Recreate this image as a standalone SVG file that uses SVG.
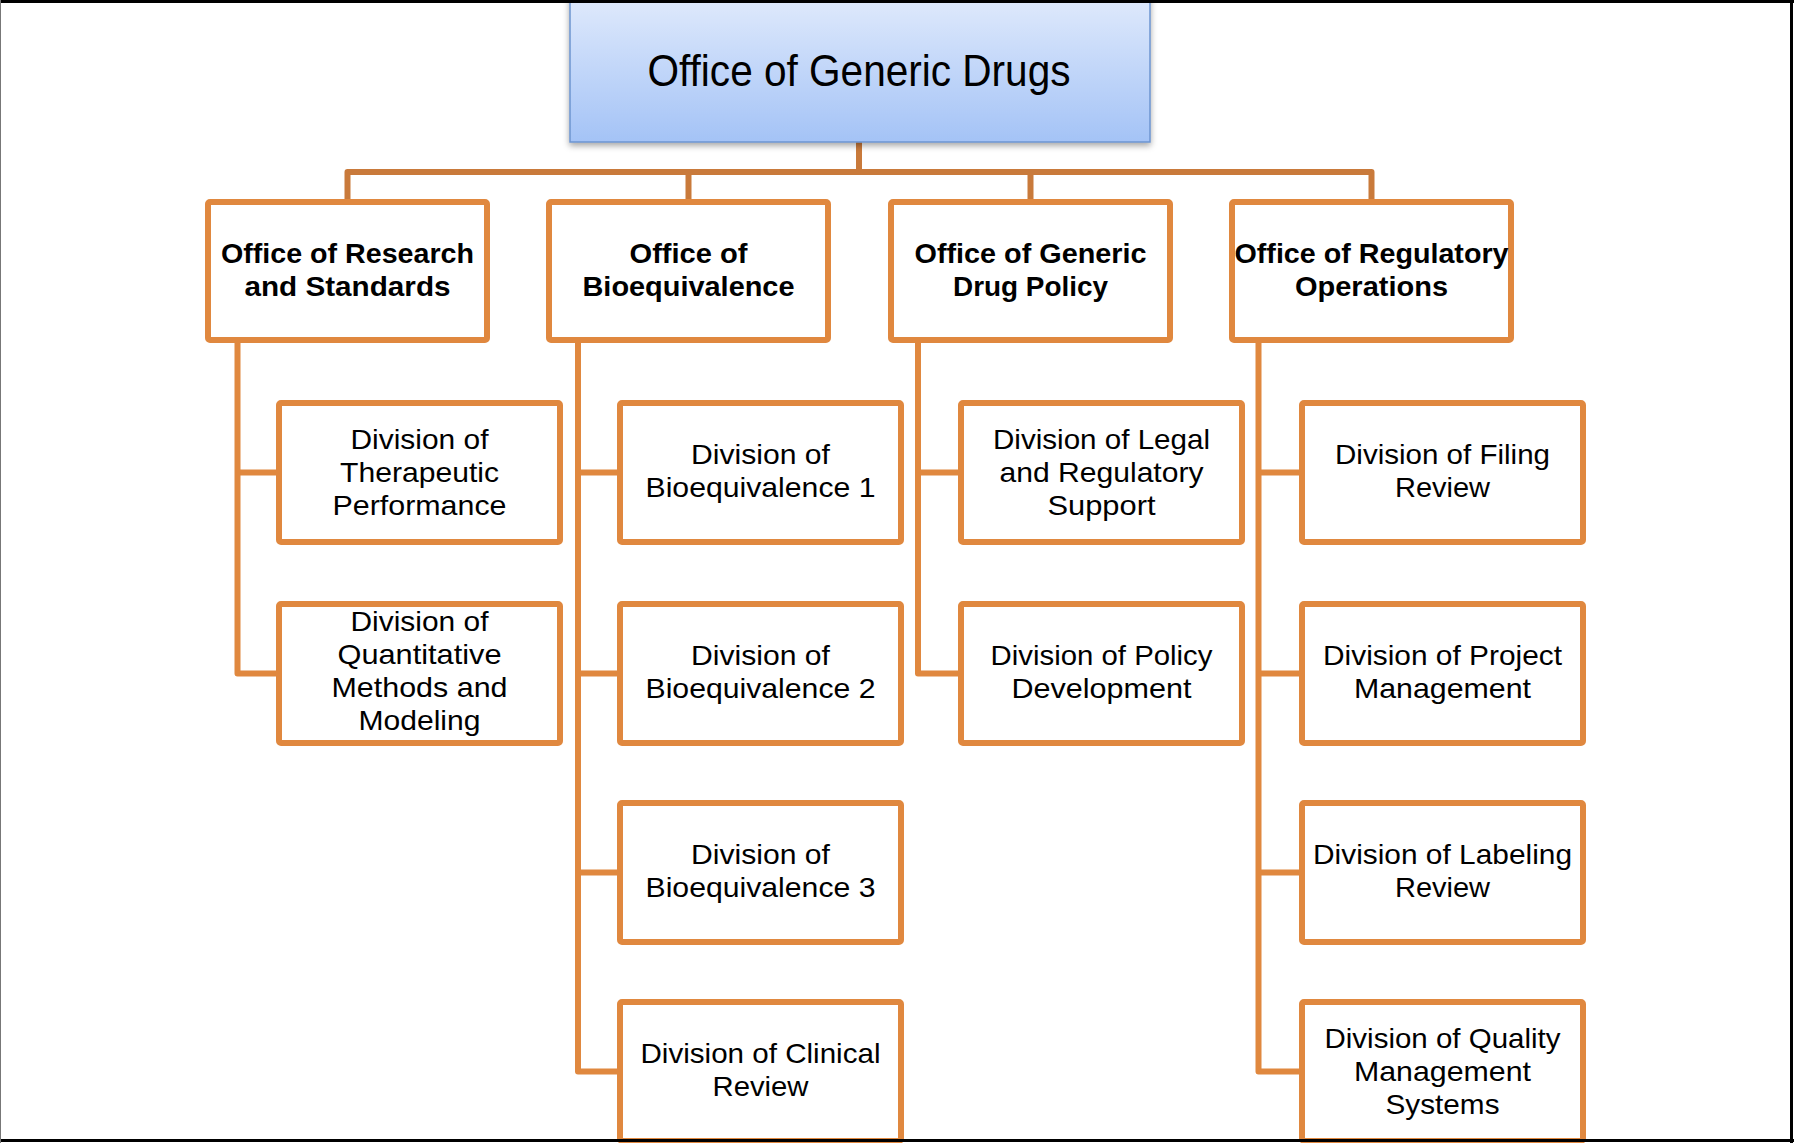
<svg xmlns="http://www.w3.org/2000/svg" width="1794" height="1143" viewBox="0 0 1794 1143">
<defs>
<linearGradient id="gBlue" x1="0" y1="0" x2="0" y2="1">
<stop offset="0" stop-color="#e0eafc"/>
<stop offset="1" stop-color="#a4c3f6"/>
</linearGradient>
<filter id="sh" x="-5%" y="-10%" width="110%" height="130%">
<feDropShadow dx="0" dy="3" stdDeviation="3" flood-color="#000" flood-opacity="0.35"/>
</filter>
<style>
.box{fill:#fff;stroke:#e0883f;stroke-width:6;}
.off{font-family:"Liberation Sans",Arial,sans-serif;font-weight:bold;font-size:28px;fill:#000;text-anchor:middle;}
.div{font-family:"Liberation Sans",Arial,sans-serif;font-size:28px;fill:#000;text-anchor:middle;}
.top{fill:none;stroke:#c97a3b;stroke-width:6;stroke-linejoin:round;}
.sub{fill:none;stroke:#e0883f;stroke-width:6;stroke-linejoin:round;stroke-linecap:butt;}
</style>
</defs>
<rect x="0" y="0" width="1794" height="1143" fill="#fff"/>

<g id="connectors">
<path class="top" d="M859,142 V172 M347.5,199 V172 H1371.5 V199 M688.5,172 V199 M1030.5,172 V199"/>
<path class="sub" d="M237.5,343 V673.5 H279 M237.5,472.5 H279"/>
<path class="sub" d="M578,343 V1071.5 H620 M578,472.5 H620 M578,673.5 H620 M578,872.5 H620"/>
<path class="sub" d="M918,343 V673.5 H961 M918,472.5 H961"/>
<path class="sub" d="M1258.5,343 V1071.5 H1302 M1258.5,472.5 H1302 M1258.5,673.5 H1302 M1258.5,872.5 H1302"/>
</g>

<g id="n-ogd">
<rect x="570" y="-5" width="580" height="147" fill="url(#gBlue)" stroke="#6d95d0" stroke-width="1.5" filter="url(#sh)"/>
<text x="859" y="86" font-family="'Liberation Sans',Arial,sans-serif" font-size="45" text-anchor="middle" textLength="423" lengthAdjust="spacingAndGlyphs">Office of Generic Drugs</text>
</g>

<g id="n-ors">
<rect class="box" x="208" y="202" width="279" height="138" rx="2"/>
<text class="off" x="347.5" y="263" textLength="253" lengthAdjust="spacingAndGlyphs">Office of Research</text>
<text class="off" x="347.5" y="296" textLength="206" lengthAdjust="spacingAndGlyphs">and Standards</text>
</g>
<g id="n-ob">
<rect class="box" x="549" y="202" width="279" height="138" rx="2"/>
<text class="off" x="688.5" y="263" textLength="118" lengthAdjust="spacingAndGlyphs">Office of</text>
<text class="off" x="688.5" y="296" textLength="212" lengthAdjust="spacingAndGlyphs">Bioequivalence</text>
</g>
<g id="n-ogdp">
<rect class="box" x="891" y="202" width="279" height="138" rx="2"/>
<text class="off" x="1030.5" y="263" textLength="232" lengthAdjust="spacingAndGlyphs">Office of Generic</text>
<text class="off" x="1030.5" y="296" textLength="155" lengthAdjust="spacingAndGlyphs">Drug Policy</text>
</g>
<g id="n-oro">
<rect class="box" x="1232" y="202" width="279" height="138" rx="2"/>
<text class="off" x="1371.5" y="263" textLength="274" lengthAdjust="spacingAndGlyphs">Office of Regulatory</text>
<text class="off" x="1371.5" y="296" textLength="153" lengthAdjust="spacingAndGlyphs">Operations</text>
</g>

<g id="n-dtp">
<rect class="box" x="279" y="403" width="281" height="139" rx="2"/>
<text class="div" x="419.5" y="448.5" textLength="138" lengthAdjust="spacingAndGlyphs">Division of</text>
<text class="div" x="419.5" y="481.5" textLength="159" lengthAdjust="spacingAndGlyphs">Therapeutic</text>
<text class="div" x="419.5" y="514.5" textLength="174" lengthAdjust="spacingAndGlyphs">Performance</text>
</g>
<g id="n-dqmm">
<rect class="box" x="279" y="604" width="281" height="139" rx="2"/>
<text class="div" x="419.5" y="630.5" textLength="138" lengthAdjust="spacingAndGlyphs">Division of</text>
<text class="div" x="419.5" y="663.5" textLength="164" lengthAdjust="spacingAndGlyphs">Quantitative</text>
<text class="div" x="419.5" y="696.5" textLength="176" lengthAdjust="spacingAndGlyphs">Methods and</text>
<text class="div" x="419.5" y="729.5" textLength="122" lengthAdjust="spacingAndGlyphs">Modeling</text>
</g>

<g id="n-db1">
<rect class="box" x="620" y="403" width="281" height="139" rx="2"/>
<text class="div" x="760.5" y="463.5" textLength="139" lengthAdjust="spacingAndGlyphs">Division of</text>
<text class="div" x="760.5" y="496.5" textLength="230" lengthAdjust="spacingAndGlyphs">Bioequivalence 1</text>
</g>
<g id="n-db2">
<rect class="box" x="620" y="604" width="281" height="139" rx="2"/>
<text class="div" x="760.5" y="664.5" textLength="139" lengthAdjust="spacingAndGlyphs">Division of</text>
<text class="div" x="760.5" y="697.5" textLength="230" lengthAdjust="spacingAndGlyphs">Bioequivalence 2</text>
</g>
<g id="n-db3">
<rect class="box" x="620" y="803" width="281" height="139" rx="2"/>
<text class="div" x="760.5" y="863.5" textLength="139" lengthAdjust="spacingAndGlyphs">Division of</text>
<text class="div" x="760.5" y="896.5" textLength="230" lengthAdjust="spacingAndGlyphs">Bioequivalence 3</text>
</g>
<g id="n-dcr">
<rect class="box" x="620" y="1002" width="281" height="139" rx="2"/>
<text class="div" x="760.5" y="1062.5" textLength="240" lengthAdjust="spacingAndGlyphs">Division of Clinical</text>
<text class="div" x="760.5" y="1095.5" textLength="96" lengthAdjust="spacingAndGlyphs">Review</text>
</g>

<g id="n-dlrs">
<rect class="box" x="961" y="403" width="281" height="139" rx="2"/>
<text class="div" x="1101.5" y="448.5" textLength="217" lengthAdjust="spacingAndGlyphs">Division of Legal</text>
<text class="div" x="1101.5" y="481.5" textLength="204" lengthAdjust="spacingAndGlyphs">and Regulatory</text>
<text class="div" x="1101.5" y="514.5" textLength="108" lengthAdjust="spacingAndGlyphs">Support</text>
</g>
<g id="n-dpd">
<rect class="box" x="961" y="604" width="281" height="139" rx="2"/>
<text class="div" x="1101.5" y="664.5" textLength="222" lengthAdjust="spacingAndGlyphs">Division of Policy</text>
<text class="div" x="1101.5" y="697.5" textLength="180" lengthAdjust="spacingAndGlyphs">Development</text>
</g>

<g id="n-dfr">
<rect class="box" x="1302" y="403" width="281" height="139" rx="2"/>
<text class="div" x="1442.5" y="463.5" textLength="215" lengthAdjust="spacingAndGlyphs">Division of Filing</text>
<text class="div" x="1442.5" y="496.5" textLength="95" lengthAdjust="spacingAndGlyphs">Review</text>
</g>
<g id="n-dpm">
<rect class="box" x="1302" y="604" width="281" height="139" rx="2"/>
<text class="div" x="1442.5" y="664.5" textLength="239" lengthAdjust="spacingAndGlyphs">Division of Project</text>
<text class="div" x="1442.5" y="697.5" textLength="177" lengthAdjust="spacingAndGlyphs">Management</text>
</g>
<g id="n-dlr">
<rect class="box" x="1302" y="803" width="281" height="139" rx="2"/>
<text class="div" x="1442.5" y="863.5" textLength="259" lengthAdjust="spacingAndGlyphs">Division of Labeling</text>
<text class="div" x="1442.5" y="896.5" textLength="95" lengthAdjust="spacingAndGlyphs">Review</text>
</g>
<g id="n-dqms">
<rect class="box" x="1302" y="1002" width="281" height="139" rx="2"/>
<text class="div" x="1442.5" y="1047.5" textLength="236" lengthAdjust="spacingAndGlyphs">Division of Quality</text>
<text class="div" x="1442.5" y="1080.5" textLength="177" lengthAdjust="spacingAndGlyphs">Management</text>
<text class="div" x="1442.5" y="1113.5" textLength="114" lengthAdjust="spacingAndGlyphs">Systems</text>
</g>

<g id="frame" fill="none">
<line x1="0" y1="1.5" x2="1794" y2="1.5" stroke="#000" stroke-width="3"/>
<line x1="1791.5" y1="0" x2="1791.5" y2="1143" stroke="#000" stroke-width="3"/>
<line x1="0" y1="1140.5" x2="1794" y2="1140.5" stroke="#000" stroke-width="3"/>
<line x1="0.5" y1="0" x2="0.5" y2="1143" stroke="#777" stroke-width="1"/>
</g>
</svg>
